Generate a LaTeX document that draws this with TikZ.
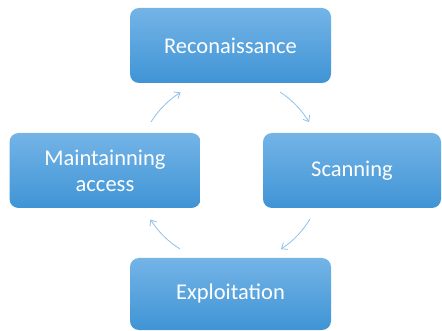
\documentclass[tikz,border=0pt]{standalone}
\usepackage{fontspec}
\setmainfont{Carlito}
\definecolor{BoxTop}{HTML}{74B4E7}
\definecolor{BoxBottom}{HTML}{3F94D5}
\definecolor{ArcBlue}{HTML}{8DC1EA}
\usetikzlibrary{arrows.meta}

\begin{document}
\begin{tikzpicture}[x=1pt, y=-1pt,
      stage/.style={rounded corners=9pt, top color=BoxTop, bottom color=BoxBottom,
         draw=none, text=white, align=center, inner sep=0pt,
         font=\fontsize{22.5}{26}\selectfont, minimum height=75pt},
      cyc/.style={draw=ArcBlue, line width=0.8pt, -{Straight Barb[length=5pt, width=8pt]}}]
   \useasboundingbox (0,0) rectangle (442,331);
   % Stages of the cycle
   \node[stage, minimum width=201pt] (recon) at (230.5,45.5) {Reconaissance};
   \node[stage, minimum width=178pt] (scan) at (352,170.5) {Scanning};
   \node[stage, minimum width=201pt, minimum height=72pt] (exploit) at (230.5,294) {Exploitation};
   \node[stage, minimum width=191pt] (maint) at (105,170.5) {Maintainning\\access};
   % Cycle arrows (y runs downwards, so angles are mirrored)
   \coordinate (a1) at (151,122);
   \coordinate (a2) at (280,92);
   \coordinate (a3) at (310,219);
   \coordinate (a4) at (180,249);
   \draw[cyc] (a1) arc[start angle=-148, end angle=-122, radius=93];
   \draw[cyc] (a2) arc[start angle=-57, end angle=-31, radius=93];
   \draw[cyc] (a3) arc[start angle=31, end angle=57, radius=93];
   \draw[cyc] (a4) arc[start angle=122, end angle=148, radius=93];
\end{tikzpicture}
\end{document}
